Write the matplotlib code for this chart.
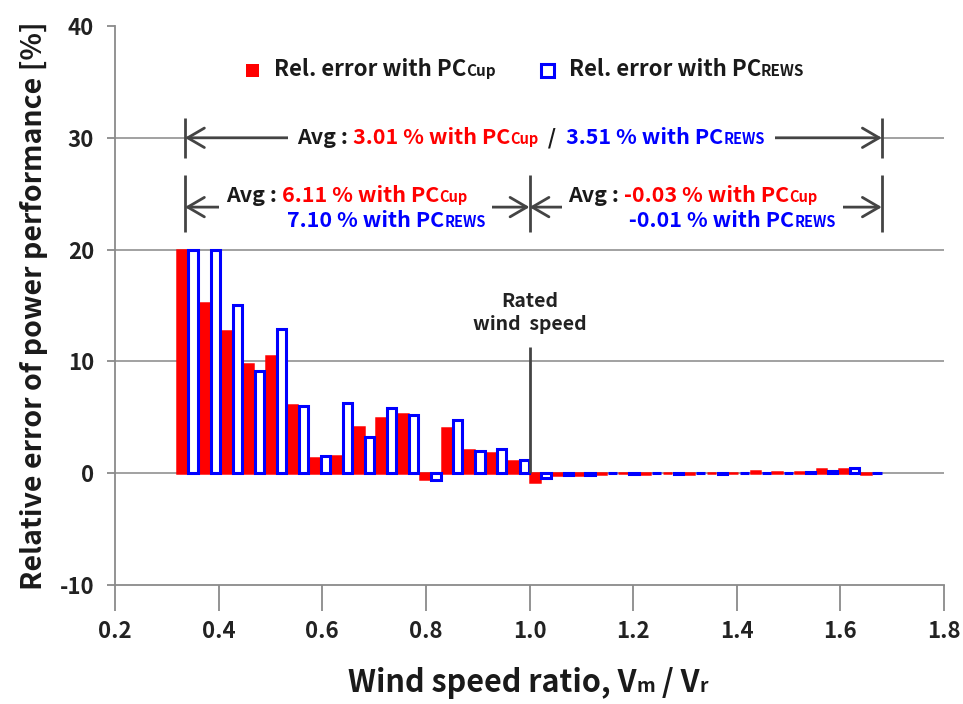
import matplotlib
matplotlib.use("Agg")
import matplotlib.pyplot as plt
from matplotlib.offsetbox import TextArea, HPacker, VPacker, AnnotationBbox, DrawingArea
from matplotlib.patches import Rectangle

plt.rcParams["font.family"] = ["Noto Sans CJK KR", "DejaVu Sans"]
plt.rcParams["axes.unicode_minus"] = False

# wind speed ratio (bin centres) and relative errors [%]
speed_ratio = [0.340, 0.383, 0.426, 0.468, 0.511, 0.553, 0.596, 0.638,
               0.681, 0.723, 0.766, 0.809, 0.851, 0.894, 0.936, 0.979,
               1.021, 1.064, 1.106, 1.149, 1.191, 1.234, 1.277, 1.319,
               1.362, 1.404, 1.447, 1.489, 1.532, 1.574, 1.617, 1.660]
err_cup = [20.0, 15.2, 12.7, 9.8, 10.5, 6.1, 1.4, 1.5,
           4.1, 4.9, 5.3, -0.5, 4.0, 2.1, 1.8, 1.1,
           -0.8, -0.2, -0.2, -0.1, 0.0, -0.1, 0.0, -0.1,
           0.0, 0.0, 0.2, 0.1, 0.1, 0.4, 0.4, -0.1]
err_rews = [20.0, 20.0, 15.0, 9.1, 12.9, 6.0, 1.5, 6.3,
            3.2, 5.8, 5.2, -0.6, 4.8, 2.0, 2.2, 1.2,
            -0.4, -0.2, -0.2, 0.0, -0.1, 0.0, -0.1, 0.0,
            -0.1, 0.0, 0.0, 0.0, 0.1, 0.2, 0.5, 0.0]

x_ticks = [0.2, 0.4, 0.6, 0.8, 1.0, 1.2, 1.4, 1.6, 1.8]
y_ticks = [-10, 0, 10, 20, 30, 40]

RED = "#ff0000"
BLUE = "#0000ff"
DARK = "#1a1a1a"
GRAY = "#444444"
bw = 0.0426

fig = plt.figure(figsize=(9.63, 7.04), dpi=100)
ax = fig.add_axes([115 / 963, 1 - 585 / 704, 829 / 963, 559 / 704])

ax.set_xlim(0.2, 1.8)
ax.set_ylim(-10, 40)
for v in y_ticks[1:-1]:
    ax.axhline(v, color="#9a9a9a", lw=1.3, zorder=0)

ax.bar([r - bw / 4 for r in speed_ratio], err_cup, width=bw * 0.44,
       facecolor=RED, edgecolor=RED, lw=1.8, zorder=2)
ax.bar([r + bw / 4 for r in speed_ratio], err_rews, width=bw * 0.42,
       facecolor="white", edgecolor=BLUE, lw=2.2, zorder=3)

ax.set_xticks(x_ticks)
ax.set_xticklabels([f"{v:.1f}" for v in x_ticks])
ax.set_yticks(y_ticks)
for s in ("top", "right"):
    ax.spines[s].set_visible(False)
for s in ("left", "bottom"):
    ax.spines[s].set_color("#8a8a8a")
    ax.spines[s].set_linewidth(1.3)
ax.tick_params(axis="x", direction="out", length=19, width=1.3, color="#8a8a8a",
               pad=6, labelsize=16, labelcolor="#222222")
ax.tick_params(axis="y", direction="out", length=6, width=1.3, color="#8a8a8a",
               pad=9, labelsize=16, labelcolor="#222222")
for lab in ax.get_xticklabels() + ax.get_yticklabels():
    lab.set_fontweight("bold")

ax.set_ylabel("Relative error of power performance [%]", fontsize=20.5,
              fontweight="bold", color=DARK, labelpad=8)


def piece(s, c, fs):
    return TextArea(s, textprops=dict(color=c, fontsize=fs, fontweight="bold"))


def line(parts):
    return HPacker(children=[piece(*p) for p in parts], align="baseline", pad=0, sep=0)


def place(box, xy, coords="data", bg=False, pad=0.5):
    ab = AnnotationBbox(box, xy, xycoords=coords, box_alignment=(0.5, 0.5),
                        frameon=bg, pad=pad, zorder=5,
                        bboxprops=dict(fc="white", ec="none"))
    ax.add_artist(ab)


FS, SUB = 15.5, 10.5

# legend
def swatch(face, edge, lw):
    da = DrawingArea(14, 12, 0, 0)
    da.add_artist(Rectangle((1, 0.5), 9.5, 9.5, fc=face, ec=edge, lw=lw))
    return da

legend = HPacker(children=[
    swatch(RED, "none", 0), piece("  ", DARK, FS),
    line([("Rel. error with PC", DARK, 16), ("Cup", DARK, 11)]),
    piece("         ", DARK, FS), swatch("white", BLUE, 2.2), piece("  ", DARK, FS),
    line([("Rel. error with PC", DARK, 16), ("REWS", DARK, 11)]),
], align="center", pad=0, sep=0)
place(legend, (0.99, 36.1))

# range arrows
arrow = dict(arrowstyle="<->,head_length=0.6,head_width=0.35", color=GRAY,
             lw=2, mutation_scale=20, shrinkA=0, shrinkB=0)
ax.annotate("", xy=(0.335, 30), xytext=(1.68, 30), arrowprops=arrow, zorder=4)
ax.annotate("", xy=(0.335, 23.8), xytext=(1.0, 23.8), arrowprops=arrow, zorder=4)
ax.annotate("", xy=(1.0, 23.8), xytext=(1.68, 23.8), arrowprops=arrow, zorder=4)
ax.vlines([0.335, 1.68], 28.2, 31.8, color=GRAY, lw=2, zorder=4)
ax.vlines([0.335, 1.0, 1.68], 21.6, 26.7, color=GRAY, lw=2, zorder=4)

place(line([("Avg : ", DARK, FS), ("3.01 % with PC", RED, FS), ("Cup", RED, SUB),
            ("  /  ", DARK, FS), ("3.51 % with PC", BLUE, FS), ("REWS", BLUE, SUB)]),
      (1.003, 30), bg=True, pad=0.7)


def block(avg1, avg2):
    lines = VPacker(children=[
        line([(avg1 + " % with PC", RED, FS), ("Cup", RED, SUB)]),
        line([(" " + avg2 + " % with PC", BLUE, FS), ("REWS", BLUE, SUB)]),
    ], align="left", pad=0, sep=3)
    return HPacker(children=[piece("Avg : ", DARK, FS), lines], align="top", pad=0, sep=0)


place(block("6.11", "7.10"), (0.665, 23.7), bg=True, pad=0.5)
place(block("-0.03", "-0.01"), (1.333, 23.7), bg=True, pad=0.5)

# rated wind speed
ax.vlines(1.0, 0, 11.25, color=GRAY, lw=2, zorder=4)
ax.text(1.0, 14.3, "Rated\nwind  speed", ha="center", va="center", fontsize=14,
        fontweight="bold", color="#222222", linespacing=1.25)

# x label with small subscripts
xlab = line([("Wind speed ratio, V", DARK, 22), ("m", DARK, 14),
             (" / V", DARK, 22), ("r", DARK, 14)])
place(xlab, (0.498, -0.175), coords="axes fraction")

fig.savefig("out.png", dpi=100)
